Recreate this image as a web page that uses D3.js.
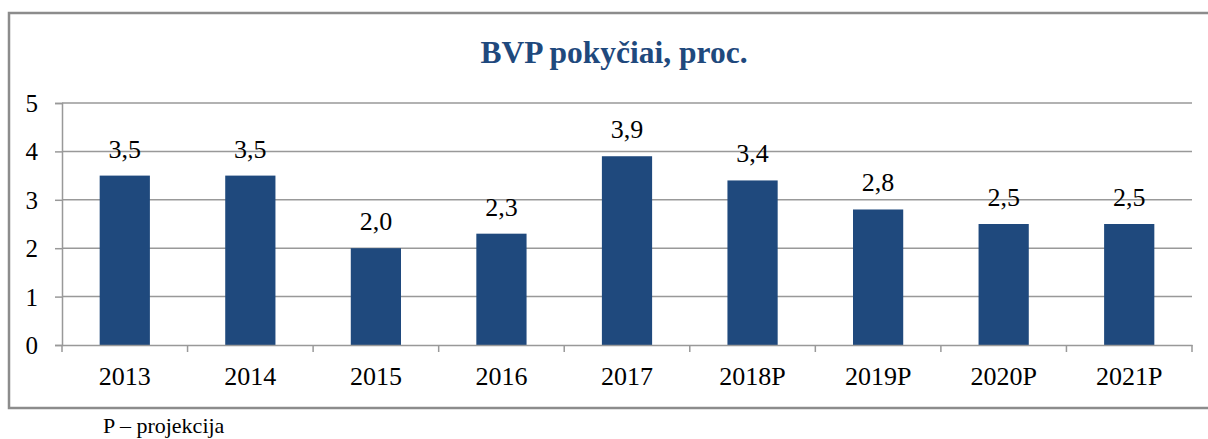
<!DOCTYPE html>
<html>
<head>
<meta charset="utf-8">
<script src="https://cdn.jsdelivr.net/npm/d3@7"></script>
<style>
  body { margin: 0; background: #fff; }
</style>
</head>
<body>
<div class="chart"></div>
<script>
// data
const years = ['2013', '2014', '2015', '2016', '2017', '2018P', '2019P', '2020P', '2021P'];
const growth = [3.5, 3.5, 2.0, 2.3, 3.9, 3.4, 2.8, 2.5, 2.5];
const yTicks = [0, 1, 2, 3, 4, 5];

const FONT = "'Liberation Serif', 'DejaVu Serif', serif";
const W = 1208, H = 439;
const margin = {top: 103, right: 16, bottom: 94, left: 62};
const plotW = W - margin.left - margin.right;
const plotH = H - margin.top - margin.bottom;

const svg = d3.select('.chart').append('svg')
  .attr('width', W).attr('height', H);

// outer frame
svg.append('rect')
  .attr('x', 9).attr('y', 13)
  .attr('width', 1210).attr('height', 395)
  .attr('fill', 'none').attr('stroke', '#8c8c8c').attr('stroke-width', 2.5);

// title
svg.append('text')
  .attr('x', 614).attr('y', 63)
  .attr('text-anchor', 'middle')
  .style('font-family', FONT)
  .style('font-size', '31.5px').style('font-weight', 'bold')
  .style('fill', '#1f497d')
  .text('BVP pokyčiai, proc.');

const g = svg.append('g').attr('transform', `translate(${margin.left},${margin.top})`);

const x = d3.scaleBand().domain(years).range([0, plotW]).paddingInner(0.6).paddingOuter(0.3);
const xb = d3.scaleBand().domain(years).range([0, plotW]);
const y = d3.scaleLinear().domain([0, 5]).range([plotH, 0]);

// gridlines
g.append('g').selectAll('line').data(yTicks.filter(d => d > 0)).join('line')
  .attr('x1', 0).attr('x2', plotW)
  .attr('y1', d => y(d)).attr('y2', d => y(d))
  .attr('stroke', '#999').attr('stroke-width', 1.5);

// bars
g.append('g').selectAll('rect').data(growth).join('rect')
  .attr('x', (d, i) => x(years[i]))
  .attr('y', d => y(d))
  .attr('width', x.bandwidth())
  .attr('height', d => plotH - y(d))
  .attr('fill', '#1f497d');

// value labels
g.append('g').selectAll('text').data(growth).join('text')
  .attr('x', (d, i) => x(years[i]) + x.bandwidth() / 2)
  .attr('y', d => y(d) - 18)
  .attr('text-anchor', 'middle')
  .style('font-family', FONT)
  .style('font-size', '26px').style('fill', '#000')
  .text(d => d3.format('.1f')(d).replace('.', ','));

// y axis
const yAxis = d3.axisLeft(y).tickValues(yTicks).tickFormat(d3.format('d')).tickSize(7).tickPadding(17);
const yg = g.append('g').call(yAxis).attr('font-family', null);
yg.select('.domain').attr('stroke', '#999').attr('stroke-width', 1.5);
yg.selectAll('.tick line').attr('stroke', '#999').attr('stroke-width', 1.5);
yg.selectAll('.tick text').style('font-family', FONT).style('font-size', '25px').style('fill', '#000').attr('dy', '0.34em');

// x axis
const xAxis = d3.axisBottom(xb).tickSize(0).tickPadding(22);
const xg = g.append('g').attr('transform', `translate(0,${plotH})`).call(xAxis).attr('font-family', null);
xg.select('.domain').attr('stroke', '#999').attr('stroke-width', 1.5);
xg.selectAll('.tick text').style('font-family', FONT).style('font-size', '26px').style('fill', '#000').attr('dy', '0.68em');
// category boundary ticks
xg.append('g').selectAll('line').data(d3.range(years.length + 1)).join('line')
  .attr('x1', i => i * xb.step()).attr('x2', i => i * xb.step())
  .attr('y1', 0).attr('y2', 7)
  .attr('stroke', '#999').attr('stroke-width', 1.5);

// footnote
svg.append('text')
  .attr('x', 103).attr('y', 433)
  .style('font-family', FONT)
  .style('font-size', '22px').style('fill', '#000')
  .text('P – projekcija');
</script>
</body>
</html>
